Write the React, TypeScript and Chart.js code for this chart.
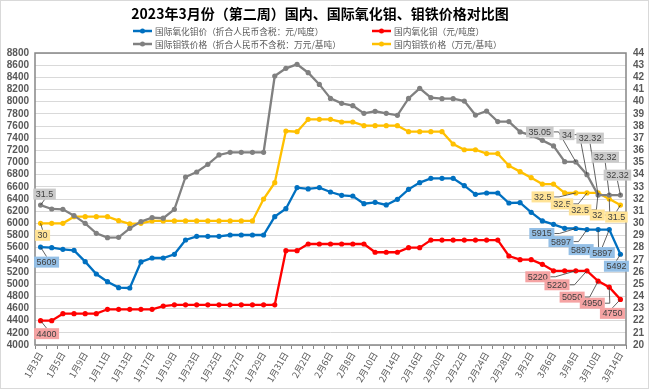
import React, { useEffect, useRef } from "react";
import { Chart, registerables } from "chart.js";

Chart.register(...registerables);

const categories = [
  "1月3日", "1月4日", "1月5日", "1月6日", "1月9日", "1月10日", "1月11日", "1月12日", "1月13日", "1月16日",
  "1月17日", "1月18日", "1月19日", "1月20日", "1月23日", "1月24日", "1月25日", "1月26日", "1月27日", "1月28日",
  "1月29日", "1月30日", "1月31日", "2月1日", "2月2日", "2月3日", "2月6日", "2月7日", "2月8日", "2月9日",
  "2月10日", "2月13日", "2月14日", "2月15日", "2月16日", "2月17日", "2月20日", "2月21日", "2月22日", "2月23日",
  "2月24日", "2月27日", "2月28日", "3月1日", "3月2日", "3月3日", "3月6日", "3月7日", "3月8日", "3月9日",
  "3月10日", "3月13日", "3月14日",
];

// 国际氧化钼价（折合人民币含税：元/吨度） - left axis
const intlMoOxide = [
  5609, 5600, 5573, 5556, 5370, 5167, 5041, 4943, 4937, 5365,
  5430, 5430, 5491, 5726, 5787, 5787, 5787, 5808, 5808, 5808,
  5808, 6110, 6241, 6587, 6565, 6587, 6515, 6460, 6449, 6323,
  6345, 6302, 6395, 6559, 6669, 6740, 6740, 6740, 6619, 6477,
  6499, 6499, 6334, 6340, 6181, 6039, 5984, 5918, 5915, 5897,
  5897, 5897, 5492,
];

// 国内氧化钼（元/吨度） - left axis
const domMoOxide = [
  4400, 4400, 4515, 4515, 4515, 4515, 4587, 4587, 4587, 4587,
  4587, 4640, 4660, 4660, 4660, 4660, 4660, 4660, 4660, 4660,
  4660, 4660, 5550, 5550, 5660, 5660, 5660, 5660, 5660, 5660,
  5525, 5525, 5525, 5600, 5600, 5725, 5725, 5725, 5725, 5725,
  5725, 5725, 5463, 5403, 5403, 5326, 5220, 5220, 5220, 5220,
  5050, 4950, 4750,
];

// 国际钼铁价格（折合人民币不含税：万元/基吨） - right axis
const intlFeMo = [
  31.5, 31.18, 31.15, 30.63, 30.0, 29.18, 28.82, 28.85, 29.59, 30.14,
  30.47, 30.42, 31.15, 33.81, 34.22, 34.85, 35.62, 35.84, 35.84, 35.84,
  35.84, 42.11, 42.74, 43.07, 42.38, 41.42, 40.27, 39.86, 39.67, 39.04,
  39.21, 39.04, 38.88, 40.27, 41.1, 40.33, 40.25, 40.25, 40.05, 38.9,
  39.23, 38.36, 38.36, 37.51, 37.23, 36.82, 36.36, 35.07, 35.05, 34,
  32.32, 32.32, 32.32,
];

// 国内钼铁价格（万元/基吨） - right axis
const domFeMo = [
  30, 30, 30, 30.55, 30.55, 30.55, 30.55, 30.22, 29.95, 30,
  30.2, 30.2, 30.2, 30.2, 30.2, 30.2, 30.2, 30.2, 30.2, 30.2,
  32.0, 33.34, 37.59, 37.53, 38.55, 38.55, 38.55, 38.33, 38.33, 38.03,
  38.03, 38.03, 38.03, 37.53, 37.53, 37.53, 37.53, 36.52, 36.05, 36.05,
  35.73, 35.73, 34.74, 34.25, 33.75, 33.23, 33.23, 32.5, 32.5, 32.5,
  32.5, 32, 31.5,
];

const seriesNames = [
  "国际氧化钼价（折合人民币含税：元/吨度）",
  "国内氧化钼（元/吨度）",
  "国际钼铁价格（折合人民币不含税：万元/基吨）",
  "国内钼铁价格（万元/基吨）",
];

const titleText = "2023年3月份（第二周）国内、国际氧化钼、钼铁价格对比图";

const leftMin = 4000;
const leftMax = 8800;
const leftStep = 200;
const rightMin = 20;
const rightMax = 44;
const rightStep = 1;

// style
const lineColors = ["#0070C0", "#FF0000", "#808080", "#FFC000"];
const boxColors = ["#94bfe6", "#f5a3a3", "#cacaca", "#ffe396"];
const CJK = '"Noto Sans CJK SC", "Noto Sans", sans-serif';

// data label placement (offset of label centre from its point, in px)
const labelSpecs = [
  { ds: 0, i: 0, dx: 6, dy: 15 },
  { ds: 1, i: 0, dx: 6, dy: 13 },
  { ds: 2, i: 0, dx: 4, dy: -11 },
  { ds: 3, i: 0, dx: 2, dy: 12 },
  { ds: 2, i: 48, dx: -36, dy: -30 },
  { ds: 2, i: 49, dx: -20, dy: -40 },
  { ds: 2, i: 50, dx: -8, dy: -57 },
  { ds: 2, i: 51, dx: -4, dy: -38 },
  { ds: 2, i: 52, dx: -3, dy: -20 },
  { ds: 3, i: 48, dx: -33, dy: 4 },
  { ds: 3, i: 49, dx: -25, dy: 11 },
  { ds: 3, i: 50, dx: -18, dy: 17 },
  { ds: 3, i: 51, dx: -12, dy: 16 },
  { ds: 3, i: 52, dx: -4, dy: 12 },
  { ds: 0, i: 48, dx: -34, dy: 5 },
  { ds: 0, i: 49, dx: -26, dy: 12 },
  { ds: 0, i: 50, dx: -17, dy: 20 },
  { ds: 0, i: 51, dx: -7, dy: 23 },
  { ds: 0, i: 52, dx: -4, dy: 12 },
  { ds: 1, i: 48, dx: -38, dy: 6 },
  { ds: 1, i: 49, dx: -30, dy: 14 },
  { ds: 1, i: 50, dx: -26, dy: 16 },
  { ds: 1, i: 51, dx: -17, dy: 16 },
  { ds: 1, i: 52, dx: -8, dy: 14 },
];

const legendPos = [
  { x: 133, y: 31 },
  { x: 372, y: 31 },
  { x: 133, y: 44 },
  { x: 372, y: 44 },
];

const decorPlugin = {
  id: "decor",
  beforeDatasetsDraw(chart: any) {
    const { ctx, chartArea: a } = chart;
    ctx.save();
    ctx.strokeStyle = "#868686";
    ctx.lineWidth = 1.5;
    ctx.strokeRect(a.left, a.top, a.right - a.left, a.bottom - a.top);
    ctx.restore();
  },
  afterDatasetsDraw(chart: any) {
    const { ctx } = chart;
    ctx.save();
    ctx.font = '9px "Liberation Sans", "DejaVu Sans", sans-serif';
    for (const s of labelSpecs) {
      const el = chart.getDatasetMeta(s.ds).data[s.i];
      if (!el) continue;
      const px = el.x;
      const py = el.y;
      const text = String(chart.data.datasets[s.ds].data[s.i]);
      const tw = ctx.measureText(text).width;
      const w = tw + 5;
      const h = 11;
      const cx = px + s.dx;
      const cy = py + s.dy;
      const L = cx - w / 2, R = cx + w / 2, T = cy - h / 2, B = cy + h / 2;
      ctx.strokeStyle = "#3a3a3a";
      ctx.lineWidth = 0.8;
      ctx.beginPath();
      let drawn = false;
      if (px > R + 2) {
        ctx.moveTo(R, cy);
        ctx.lineTo(R + 5, cy);
        ctx.lineTo(px, py);
        drawn = true;
      } else if (px < L - 2) {
        ctx.moveTo(L, cy);
        ctx.lineTo(L - 5, cy);
        ctx.lineTo(px, py);
        drawn = true;
      } else if (py > B + 2) {
        ctx.moveTo(cx, B);
        ctx.lineTo(px, py);
        drawn = true;
      } else if (py < T - 2) {
        ctx.moveTo(cx, T);
        ctx.lineTo(px, py);
        drawn = true;
      }
      if (drawn) ctx.stroke();
      ctx.fillStyle = boxColors[s.ds];
      ctx.fillRect(L, T, w, h);
      ctx.fillStyle = "#404040";
      ctx.textAlign = "center";
      ctx.textBaseline = "middle";
      ctx.fillText(text, cx, cy + 0.5);
    }
    ctx.restore();
  },
  afterDraw(chart: any) {
    const { ctx } = chart;
    ctx.save();
    ctx.strokeStyle = "#d9d9d9";
    ctx.lineWidth = 1;
    ctx.strokeRect(0.5, 0.5, 648, 388);
    ctx.fillStyle = "#000000";
    ctx.font = `bold 14px ${CJK}`;
    ctx.textAlign = "center";
    ctx.textBaseline = "middle";
    ctx.fillText(titleText, 320, 14);
    ctx.font = `8.7px ${CJK}`;
    ctx.textAlign = "left";
    for (let k = 0; k < 4; k++) {
      const p = legendPos[k];
      ctx.strokeStyle = lineColors[k];
      ctx.lineWidth = 2.5;
      ctx.beginPath();
      ctx.moveTo(p.x, p.y);
      ctx.lineTo(p.x + 19, p.y);
      ctx.stroke();
      ctx.fillStyle = lineColors[k];
      ctx.beginPath();
      ctx.arc(p.x + 9.5, p.y, 2.5, 0, Math.PI * 2);
      ctx.fill();
      ctx.fillStyle = "#595959";
      ctx.fillText(seriesNames[k], p.x + 22, p.y + 0.5);
    }
    ctx.restore();
  },
};

export default function App() {
  const canvasRef = useRef<HTMLCanvasElement | null>(null);

  useEffect(() => {
    if (!canvasRef.current) return;
    const mk = (k: number, data: number[], axis: string) => ({
      label: seriesNames[k],
      data,
      yAxisID: axis,
      borderColor: lineColors[k],
      backgroundColor: lineColors[k],
      pointBackgroundColor: lineColors[k],
      pointBorderWidth: 0,
      pointRadius: 2.6,
      borderWidth: 2.3,
      tension: 0,
      fill: false,
    });
    const plain = (v: any) => String(v);
    const chart = new Chart(canvasRef.current, {
      type: "line",
      data: {
        labels: categories,
        datasets: [
          mk(0, intlMoOxide, "y"),
          mk(1, domMoOxide, "y"),
          mk(2, intlFeMo, "y1"),
          mk(3, domFeMo, "y1"),
        ],
      },
      options: {
        animation: false,
        responsive: true,
        maintainAspectRatio: false,
        layout: { padding: { top: 53, left: 0, right: 0, bottom: 0 } },
        plugins: {
          legend: { display: false },
          title: { display: false },
          tooltip: { enabled: false },
        },
        scales: {
          x: {
            type: "category",
            offset: true,
            grid: {
              display: true,
              drawOnChartArea: false,
              drawTicks: true,
              tickLength: 4,
              offset: true,
              color: "#868686",
            },
            border: { display: false },
            ticks: {
              autoSkip: false,
              minRotation: 60,
              maxRotation: 60,
              padding: 1,
              color: "#595959",
              font: { family: CJK, size: 9 },
              callback: (_v: any, i: number) => (i % 2 === 0 ? categories[i] : ""),
            },
            afterFit: (s: any) => {
              s.height = 46;
            },
          },
          y: {
            type: "linear",
            position: "left",
            min: leftMin,
            max: leftMax,
            grid: { color: "#d9d9d9", lineWidth: 1, drawTicks: false },
            border: { display: false },
            ticks: {
              stepSize: leftStep,
              autoSkip: false,
              padding: 6,
              color: "#595959",
              font: { family: '"Liberation Sans", sans-serif', size: 10, weight: "bold" },
              callback: plain,
            },
            afterFit: (s: any) => {
              s.width = 35;
            },
          },
          y1: {
            type: "linear",
            position: "right",
            min: rightMin,
            max: rightMax,
            grid: { drawOnChartArea: false, drawTicks: false },
            border: { display: false },
            ticks: {
              stepSize: rightStep,
              autoSkip: false,
              padding: 7,
              color: "#595959",
              font: { family: '"Liberation Sans", sans-serif', size: 10, weight: "bold" },
              callback: plain,
            },
            afterFit: (s: any) => {
              s.width = 24;
            },
          },
        },
      },
      plugins: [decorPlugin],
    });
    return () => chart.destroy();
  }, []);

  return (
    <div style={{ position: "absolute", left: 0, top: 0, width: 650, height: 391, background: "#ffffff" }}>
      <canvas ref={canvasRef} />
    </div>
  );
}
